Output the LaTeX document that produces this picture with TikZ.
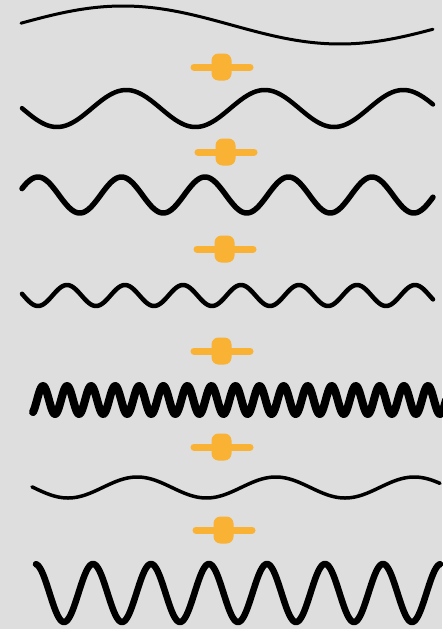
\documentclass[tikz,border=0pt]{standalone}
\usetikzlibrary{calc}
\definecolor{bggray}{HTML}{DEDEDE}
\definecolor{plusorange}{HTML}{F9B234}
\tikzset{
  wave/.style={draw=black, line cap=round, line join=round},
  plussign/.pic={
    \draw[plusorange, line width=7pt, line cap=round] (-28,0) -- (28,0);
    \fill[plusorange, rounded corners=7pt] (-10.5,-13.5) rectangle (9.5,13.5);
  }
}
\begin{document}
\begin{tikzpicture}[x=1pt,y=-1pt]
  \fill[bggray] (0,0) rectangle (442,629);
  \useasboundingbox (0,0) rectangle (442,629);
  % wave 1
  \draw[wave, line width=3pt] plot[domain=21:433, samples=200, smooth]
    (\x, {25 - 19*cos((\x-123)/434*360)});
  \pic at (222,67) {plussign};
  % wave 2
  \draw[wave, line width=4.5pt] plot[domain=22:433, samples=250, smooth]
    (\x, {108.5 + 18.5*cos((\x-57)/138.5*360)});
  \pic at (226,152) {plussign};
  % wave 3
  \draw[wave, line width=5.5pt] plot[domain=22:433, samples=300, smooth]
    (\x, {195 - 18*cos((\x-38)/83.5*360)});
  \pic at (225,249) {plussign};
  % wave 4
  \draw[wave, line width=4.5pt] plot[domain=22:433, samples=300, smooth]
    (\x, {295.5 - 10.5*cos((\x-67)/58*360)});
  \pic at (222,351) {plussign};
  % wave 5
  \draw[wave, line width=8pt] plot[domain=33:446, samples=600, smooth]
    (\x, {400 - 14*cos((\x-43)/24.06*360)});
  \pic at (222,447) {plussign};
  % wave 6
  \draw[wave, line width=3.5pt] plot[domain=32:440, samples=250, smooth]
    (\x, {487.5 + 10.5*cos((\x-68)/138.5*360)});
  \pic at (224,530) {plussign};
  % wave 7
  \draw[wave, line width=6.5pt] plot[domain=36:440, samples=400, smooth]
    (\x, {593 - 29*cos((\x-35)/58*360)});
\end{tikzpicture}
\end{document}
